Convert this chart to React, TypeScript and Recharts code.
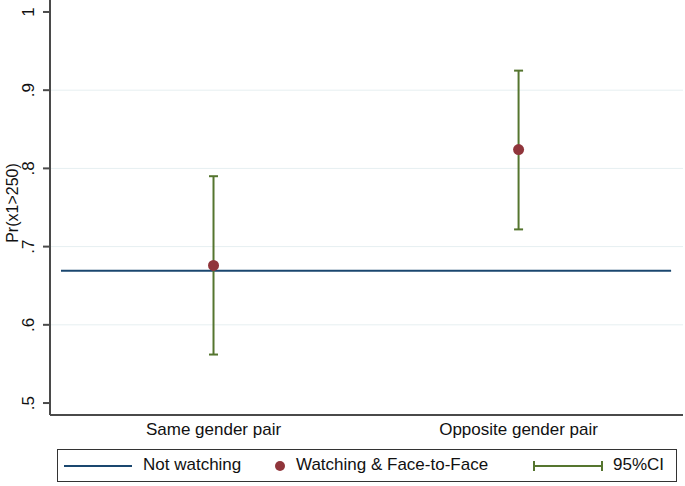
import React from 'react';
import {
  ComposedChart, Scatter, XAxis, YAxis, ReferenceLine, ErrorBar,
} from 'recharts';

// categories along the x axis
const CATEGORIES = ['Same gender pair', 'Opposite gender pair'];
// Watching & Face-to-Face: point estimate and 95% CI
const ESTIMATES = [0.676, 0.824];
const CI_LOW = [0.562, 0.722];
const CI_HIGH = [0.790, 0.925];
// Not watching baseline
const NOT_WATCHING = 0.669;
// y axis
const Y_TICKS = [0.5, 0.6, 0.7, 0.8, 0.9, 1];
const GRID_VALUES = [0.6, 0.7, 0.8, 0.9];
const Y_DOMAIN = [0.4847, 1.0153];
// x range: the categories sit on [0, 2], with a small margin either side
const X_DOMAIN = [-0.036, 2.039];

const FONT = '"Liberation Sans", Arial, Helvetica, sans-serif';
const NAVY = '#1a476f';
const MAROON = '#90353b';
const GREEN = '#55752f';
const AXIS = '#4a4a4a';

const points = CATEGORIES.map((c, i) => ({
  x: i + 0.5,
  name: c,
  y: ESTIMATES[i],
  err: [ESTIMATES[i] - CI_LOW[i], CI_HIGH[i] - ESTIMATES[i]],
}));

const fmtY = (v: number) => (v === 1 ? '1' : String(v).replace(/^0/, ''));

const YTick = ({ x, y, payload }: any) => (
  <text
    x={x - 14}
    y={y}
    transform={`rotate(-90, ${x - 14}, ${y})`}
    textAnchor="middle"
    dominantBaseline="central"
    fontSize={17}
    fontFamily={FONT}
    fill="#111111"
  >
    {fmtY(payload.value)}
  </text>
);

const XTick = ({ x, y, payload }: any) => (
  <text x={x} y={y + 14} textAnchor="middle" dominantBaseline="central" fontSize={17} fontFamily={FONT} fill="#111111">
    {CATEGORIES[Math.floor(payload.value)]}
  </text>
);

const YTitle = () => (
  <text
    x={12}
    y={203}
    transform="rotate(-90, 12, 203)"
    textAnchor="middle"
    dominantBaseline="central"
    fontSize={16}
    fontFamily={FONT}
    fill="#111111"
  >
    Pr(x1&gt;250)
  </text>
);

const Dot = ({ cx, cy }: any) => <circle cx={cx} cy={cy} r={5.5} fill={MAROON} />;
const Empty = () => <g />;

const LegendBox = () => (
  <div
    style={{
      position: 'absolute', left: 57, top: 449, width: 618, height: 31,
      border: '1px solid #333333', fontFamily: FONT, fontSize: 17, color: '#111111',
    }}
  >
    <div style={{ position: 'absolute', left: 6, top: 15, width: 68, height: 2, background: NAVY }} />
    <span style={{ position: 'absolute', left: 85, top: 5 }}>Not watching</span>
    <div style={{ position: 'absolute', left: 217, top: 11, width: 10, height: 10, borderRadius: 5, background: MAROON }} />
    <span style={{ position: 'absolute', left: 238, top: 5 }}>Watching &amp; Face-to-Face</span>
    <div style={{ position: 'absolute', left: 476, top: 15, width: 68, height: 2, background: GREEN }} />
    <div style={{ position: 'absolute', left: 475, top: 11, width: 2, height: 10, background: GREEN }} />
    <div style={{ position: 'absolute', left: 543, top: 11, width: 2, height: 10, background: GREEN }} />
    <span style={{ position: 'absolute', left: 555, top: 5 }}>95%CI</span>
  </div>
);

export default function App() {
  return (
    <div style={{ position: 'absolute', left: 0, top: 0, width: 685, height: 486, background: '#ffffff' }}>
      <ComposedChart width={685} height={486} margin={{ top: 0, right: 2, left: 0, bottom: 41 }}>
        {GRID_VALUES.map((v) => (
          <ReferenceLine key={v} y={v} stroke="#e6eff1" strokeWidth={1} />
        ))}
        <XAxis
          type="number"
          dataKey="x"
          domain={X_DOMAIN}
          ticks={CATEGORIES.map((_, i) => i + 0.5)}
          tick={<XTick />}
          tickLine={false}
          axisLine={{ stroke: AXIS, strokeWidth: 2 }}
          tickSize={0}
          tickMargin={0}
          height={30}
          allowDataOverflow
        />
        <YAxis
          type="number"
          dataKey="y"
          domain={Y_DOMAIN}
          ticks={Y_TICKS}
          tick={<YTick />}
          tickLine={{ stroke: AXIS, strokeWidth: 2 }}
          axisLine={{ stroke: AXIS, strokeWidth: 2 }}
          tickSize={7}
          tickMargin={0}
          width={50}
          label={<YTitle />}
          allowDataOverflow
        />
        <ReferenceLine
          segment={[{ x: 0, y: NOT_WATCHING }, { x: CATEGORIES.length, y: NOT_WATCHING }]}
          stroke={NAVY}
          strokeWidth={2}
        />
        <Scatter data={points} dataKey="y" shape={<Dot />} isAnimationActive={false} />
        <Scatter data={points} dataKey="y" shape={<Empty />} isAnimationActive={false}>
          <ErrorBar dataKey="err" direction="y" width={4.5} stroke={GREEN} strokeWidth={2} />
        </Scatter>
      </ComposedChart>
      <LegendBox />
    </div>
  );
}
